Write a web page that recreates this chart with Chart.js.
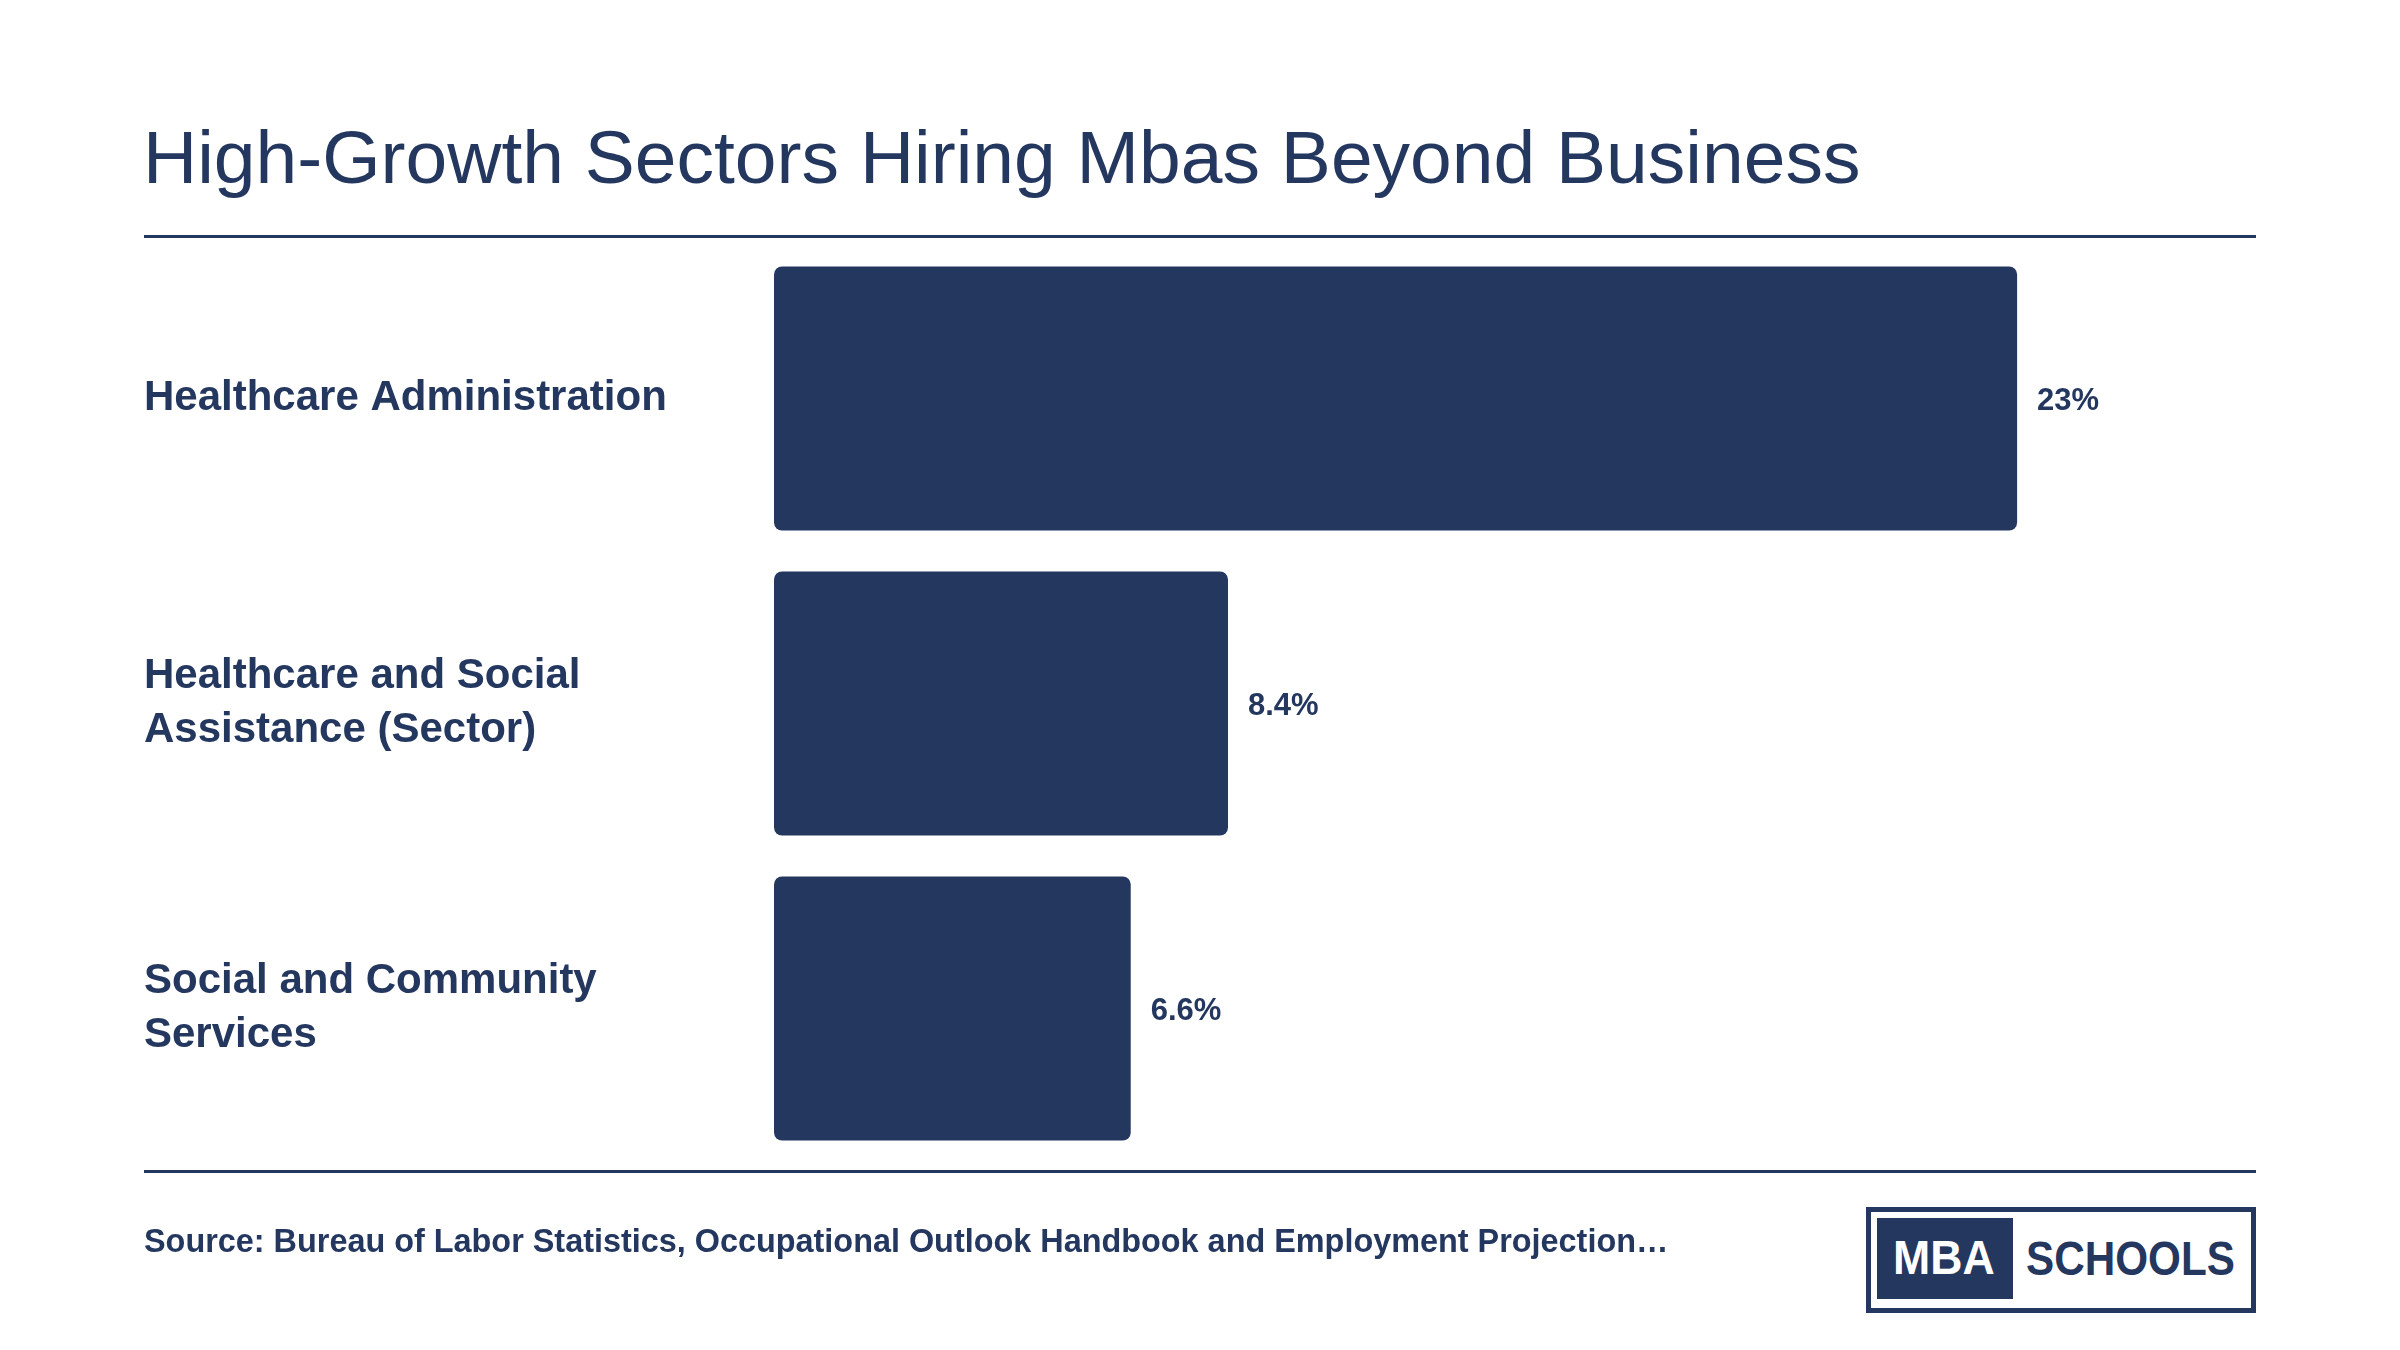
<!DOCTYPE html>
<html>
<head>
<meta charset="utf-8">
<script src="https://cdn.jsdelivr.net/npm/chart.js@4/dist/chart.umd.min.js"></script>
<style>
  html, body { margin:0; padding:0; background:#fff; }
  body { width:2400px; height:1350px; position:relative; overflow:hidden; font-family:"Liberation Sans", Arial, Helvetica, sans-serif; color:#24375f; }
  #title { position:absolute; left:143px; top:120px; font-size:75px; line-height:75px; font-weight:normal; white-space:nowrap; }
  .rule { position:absolute; left:144px; width:2112px; height:3px; background:#24375f; }
  #source { position:absolute; left:144px; top:1225px; font-size:32.4px; line-height:32px; font-weight:bold; white-space:nowrap; }
  #logo { position:absolute; left:1866px; top:1207px; width:380px; height:96px; border:5px solid #24375f; background:#fff; }
  #logo .mba { position:absolute; left:6px; top:6px; width:136px; height:81px; background:#24375f; color:#fff; }
  #logo span { position:absolute; display:inline-block; font-weight:bold; font-size:48px; line-height:47px; transform-origin:0 0; white-space:nowrap; }
  #logo .mba span { left:16px; top:16px; transform:scaleX(0.93); }
  #logo .sch { left:155px; top:23px; color:#24375f; transform:scaleX(0.88); }
  #chart { position:absolute; left:0; top:0; }
</style>
</head>
<body>
<div id="title">High-Growth Sectors Hiring Mbas Beyond Business</div>
<div class="rule" style="top:235px"></div>
<canvas id="chart" width="2400" height="1350"></canvas>
<div class="rule" style="top:1170px"></div>
<div id="source">Source: Bureau of Labor Statistics, Occupational Outlook Handbook and Employment Projection…</div>
<div id="logo"><div class="mba"><span>MBA</span></div><span class="sch">SCHOOLS</span></div>
<script>
const sectors = [
  ["Healthcare Administration"],
  ["Healthcare and Social", "Assistance (Sector)"],
  ["Social and Community", "Services"]
];
const growth = [23, 8.4, 6.6];
const valueLabels = ["23%", "8.4%", "6.6%"];

const navy = "#24375f";

// value text at the end of each bar
const barValues = {
  id: "barValues",
  afterDatasetsDraw(chart){
    const ctx = chart.ctx;
    const meta = chart.getDatasetMeta(0);
    ctx.save();
    ctx.fillStyle = navy;
    ctx.font = "bold 31px 'Liberation Sans', Arial, sans-serif";
    ctx.textAlign = "left";
    ctx.textBaseline = "middle";
    meta.data.forEach((bar, i) => {
      ctx.fillText(valueLabels[i], bar.x + 20, bar.y + 3);
    });
    ctx.restore();
  }
};

new Chart(document.getElementById("chart"), {
  type: "bar",
  data: {
    labels: sectors,
    datasets: [{
      data: growth,
      backgroundColor: navy,
      borderRadius: 8,
      borderSkipped: false,
      barPercentage: 0.866,
      categoryPercentage: 1
    }]
  },
  options: {
    indexAxis: "y",
    responsive: false,
    animation: false,
    layout: { padding: { left: 144, right: 144, top: 246, bottom: 189 } },
    plugins: { legend: { display: false }, tooltip: { enabled: false } },
    scales: {
      x: { display: false, min: 0, max: 27.42 },
      y: {
        grid: { display: false, drawTicks: false },
        border: { display: false },
        afterFit(scale){ scale.width = 630; },
        ticks: {
          crossAlign: "far",
          color: navy,
          padding: 0,
          font: { family: "'Liberation Sans', Arial, sans-serif", size: 42, weight: "bold", lineHeight: 1.28 }
        }
      }
    }
  },
  plugins: [barValues]
});
</script>
</body>
</html>
